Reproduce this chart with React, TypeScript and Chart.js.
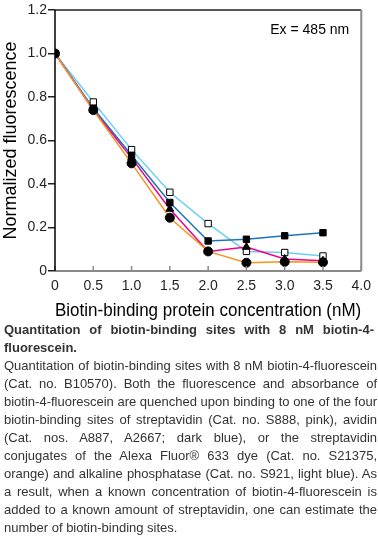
import React, { useEffect, useRef } from "react";
import { Chart, registerables } from "chart.js";

Chart.register(...registerables);

const xValues = [0, 0.5, 1.0, 1.5, 2.0, 2.5, 3.0, 3.5];
const orangeSeries = [1.0, 0.74, 0.495, 0.245, 0.09, 0.038, 0.042, 0.04];
const pinkSeries = [1.0, 0.74, 0.52, 0.285, 0.09, 0.11, 0.055, 0.047];
const darkBlueSeries = [1.0, 0.748, 0.532, 0.315, 0.138, 0.146, 0.162, 0.176];
const lightBlueSeries = [1.0, 0.777, 0.558, 0.362, 0.218, 0.09, 0.085, 0.069];

const xTicks = [0, 0.5, 1.0, 1.5, 2.0, 2.5, 3.0, 3.5, 4.0];
const yTicks = [0, 0.2, 0.4, 0.6, 0.8, 1.0, 1.2];

const xTitle = "Biotin-binding protein concentration (nM)";
const yTitle = "Normalized fluorescence";
const annotation = "Ex = 485 nm";

const FONT = "Arial, 'Liberation Sans', Helvetica, sans-serif";

const fmt = (v: number) => (v === 0 ? "0" : v.toFixed(1));

const toPts = (ys: number[]) => ys.map((y, i) => ({ x: xValues[i], y }));

const framePlugin = {
  id: "frame",
  afterDatasetsDraw(chart: any) {
    const { ctx, chartArea } = chart;
    const { left, right, top, bottom } = chartArea;
    const xs = chart.scales.x;
    ctx.save();
    ctx.strokeStyle = "#231f20";
    ctx.lineWidth = 1.5;
    ctx.beginPath();
    ctx.moveTo(left, top);
    ctx.lineTo(right, top);
    ctx.stroke();
    ctx.strokeStyle = "#8a8a8a";
    ctx.lineWidth = 2;
    ctx.beginPath();
    ctx.moveTo(right, top);
    ctx.lineTo(right, bottom);
    ctx.stroke();
    ctx.beginPath();
    ctx.moveTo(left, bottom);
    ctx.lineTo(right, bottom);
    ctx.stroke();
    ctx.lineWidth = 1.5;
    xTicks.forEach((t) => {
      const px = xs.getPixelForValue(t);
      ctx.beginPath();
      ctx.moveTo(px, bottom);
      ctx.lineTo(px, bottom - 5);
      ctx.stroke();
    });
    ctx.strokeStyle = "#000";
    ctx.lineWidth = 1.5;
    ctx.beginPath();
    ctx.moveTo(left, top);
    ctx.lineTo(left, bottom);
    ctx.stroke();
    ctx.fillStyle = "#000";
    ctx.font = `14px ${FONT}`;
    ctx.textAlign = "right";
    ctx.textBaseline = "middle";
    ctx.fillText(annotation, right - 12, top + 20);
    ctx.restore();
  },
};

export default function App() {
  const ref = useRef<HTMLCanvasElement | null>(null);

  useEffect(() => {
    if (!ref.current) return;
    const lineDs = (data: number[], color: string) => ({
      type: "line" as const,
      data: toPts(data),
      borderColor: color,
      borderWidth: 1.5,
      pointRadius: 0,
      fill: false,
      tension: 0,
      order: 2,
    });
    const markDs = (data: number[], style: string, filled: boolean, r: number) => ({
      type: "line" as const,
      data: toPts(data),
      showLine: false,
      pointStyle: style,
      pointRadius: r,
      pointBackgroundColor: filled ? "#000" : "#fff",
      pointBorderColor: "#000",
      pointBorderWidth: 1,
      order: 1,
    });
    const chart = new Chart(ref.current, {
      type: "line",
      data: {
        datasets: [
          markDs(orangeSeries, "circle", true, 4.5),
          markDs(pinkSeries, "triangle", true, 4.5),
          markDs(darkBlueSeries, "rect", true, 4.5),
          markDs(lightBlueSeries, "rect", false, 4.5),
          lineDs(orangeSeries, "#f7941d"),
          lineDs(pinkSeries, "#ec008c"),
          lineDs(darkBlueSeries, "#1b75bb"),
          lineDs(lightBlueSeries, "#6dcff6"),
        ] as any,
      },
      options: {
        responsive: false,
        animation: false,
        devicePixelRatio: 1,
        layout: { padding: { top: 10, right: 15, left: 0, bottom: 0 } },
        plugins: { legend: { display: false }, tooltip: { enabled: false } },
        scales: {
          x: {
            type: "linear",
            min: 0,
            max: 4,
            afterBuildTicks: (s: any) => {
              s.ticks = xTicks.map((v) => ({ value: v }));
            },
            afterFit: (s: any) => {
              s.height = 51;
            },
            grid: { display: false, drawTicks: false },
            border: { display: false },
            ticks: {
              callback: (v: any) => fmt(Number(v)),
              color: "#231f20",
              font: { family: FONT, size: 14 },
              padding: 7,
              maxRotation: 0,
            },
            title: {
              display: true,
              text: xTitle,
              color: "#000",
              font: { family: FONT, size: 18 },
              padding: { top: 1, bottom: 0 },
            },
          },
          y: {
            type: "linear",
            min: 0,
            max: 1.2,
            afterBuildTicks: (s: any) => {
              s.ticks = yTicks.map((v) => ({ value: v }));
            },
            afterFit: (s: any) => {
              s.width = 55;
            },
            grid: {
              drawOnChartArea: false,
              drawTicks: true,
              tickLength: 7,
              color: "#231f20",
              lineWidth: 1.5,
            },
            border: { display: false },
            ticks: {
              callback: (v: any) => fmt(Number(v)),
              color: "#231f20",
              font: { family: FONT, size: 14 },
              padding: 1,
            },
            title: {
              display: true,
              text: yTitle,
              color: "#000",
              font: { family: FONT, size: 18 },
              padding: { top: 0, bottom: 0 },
            },
          },
        },
      },
      plugins: [framePlugin],
    });
    return () => chart.destroy();
  }, []);

  return (
    <div
      style={{
        position: "fixed",
        left: 0,
        top: 0,
        width: 378,
        height: 542,
        overflow: "hidden",
        background: "#fff",
      }}
    >
      <canvas ref={ref} width={378} height={322} style={{ display: "block", width: 378, height: 322 }} />
      <div
        style={{
          position: "absolute",
          left: 4,
          top: 321,
          width: 373,
          fontFamily: FONT,
          fontSize: 13,
          lineHeight: "18px",
          color: "#333",
          textAlign: "justify",
        }}
      >
        <div style={{ fontWeight: "bold", width: 370 }}>
          Quantitation of biotin-binding sites with 8 nM biotin-4-fluorescein.
        </div>
        <div>
          Quantitation of biotin-binding sites with 8 nM biotin-4-fluorescein (Cat. no. B10570). Both the fluorescence and absorbance of biotin-4-fluorescein are quenched upon binding to one of the four biotin-binding sites of streptavidin (Cat. no. S888, pink), avidin (Cat. nos. A887, A2667; dark blue), or the streptavidin conjugates of the Alexa Fluor® 633 dye (Cat. no. S21375, orange) and alkaline phosphatase (Cat. no. S921, light blue). As a result, when a known concentration of biotin-4-fluorescein is added to a known amount of streptavidin, one can estimate the number of biotin-binding sites.
        </div>
      </div>
    </div>
  );
}
